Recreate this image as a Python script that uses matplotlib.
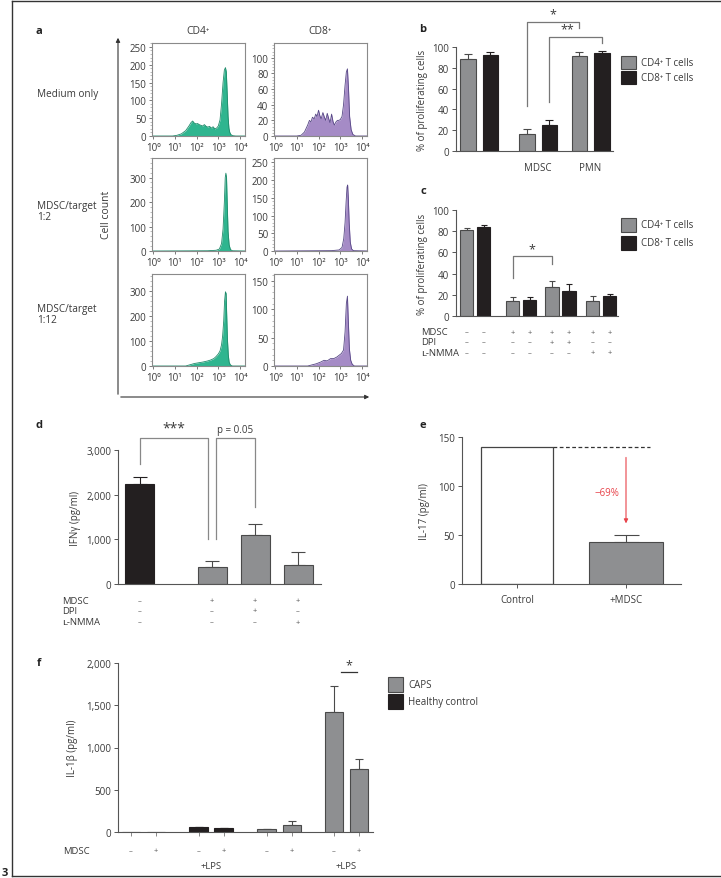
import numpy as np
import matplotlib
matplotlib.use("Agg")
import matplotlib.pyplot as plt
from matplotlib.lines import Line2D
from matplotlib.patches import Rectangle, FancyArrowPatch
from matplotlib.ticker import AutoMinorLocator, LogLocator, NullFormatter

plt.rcParams['font.family'] = ['Open Sans', 'DejaVu Sans']
plt.rcParams['axes.linewidth'] = 0.8

# ---------------- data ----------------
# panel a: flow cytometry histograms (log10 fluorescence, cell count)
cd4_med_lx = [0.0, 0.9, 1.1, 1.3, 1.5, 1.65, 1.75, 1.82, 1.9, 1.98, 2.05, 2.12, 2.2, 2.28, 2.36,
              2.44, 2.52, 2.6, 2.68, 2.76, 2.84, 2.92, 3.0, 3.08, 3.15, 3.22, 3.28, 3.33, 3.37,
              3.41, 3.45, 3.49, 3.53, 3.58, 3.66, 3.8, 4.3]
cd4_med_ct = [0, 0, 2, 6, 15, 28, 38, 42, 36, 34, 35, 32, 30, 28, 32, 27, 25, 27, 22, 26, 20,
              22, 28, 45, 90, 150, 185, 192, 180, 120, 55, 22, 10, 4, 1, 0, 0]
cd8_med_lx = [0, 1.0, 1.2, 1.35, 1.5, 1.58, 1.65, 1.72, 1.8, 1.87, 1.93, 2.0, 2.06, 2.12, 2.2,
              2.27, 2.33, 2.4, 2.47, 2.53, 2.6, 2.67, 2.73, 2.8, 2.87, 2.93, 3.0, 3.08, 3.15,
              3.22, 3.28, 3.33, 3.38, 3.43, 3.5, 3.58, 3.7, 4.3]
cd8_med_ct = [0, 0, 1, 5, 14, 20, 18, 24, 22, 28, 25, 33, 26, 22, 30, 24, 20, 29, 22, 17, 28,
              18, 14, 18, 20, 20, 21, 25, 40, 65, 82, 86, 60, 25, 8, 2, 0, 0]
cd4_r2_lx = [0, 2.5, 2.9, 3.05, 3.15, 3.22, 3.28, 3.32, 3.35, 3.38, 3.41, 3.45, 3.5, 3.56, 3.65, 4.3]
cd4_r2_ct = [0, 1, 3, 8, 30, 90, 200, 300, 318, 300, 200, 80, 25, 6, 1, 0]
cd8_r2_lx = [0, 2.6, 2.95, 3.08, 3.16, 3.22, 3.27, 3.31, 3.34, 3.37, 3.41, 3.46, 3.52, 3.6, 4.3]
cd8_r2_ct = [0, 1, 3, 10, 35, 80, 140, 180, 186, 150, 80, 25, 6, 1, 0]
cd4_r3_lx = [0, 1.5, 1.7, 1.9, 2.1, 2.3, 2.5, 2.65, 2.8, 2.9, 3.0, 3.08, 3.15, 3.2, 3.25, 3.29,
             3.33, 3.36, 3.39, 3.42, 3.46, 3.5, 3.56, 3.65, 4.3]
cd4_r3_ct = [0, 0, 5, 10, 13, 16, 20, 24, 30, 38, 48, 60, 85, 120, 180, 260, 297, 290, 200,
             110, 45, 15, 4, 0, 0]
cd8_r3_lx = [0, 1.5, 1.7, 1.9, 2.1, 2.25, 2.4, 2.55, 2.7, 2.85, 2.95, 3.05, 3.15, 3.22, 3.28,
             3.33, 3.37, 3.42, 3.48, 3.55, 3.65, 4.3]
cd8_r3_ct = [0, 0, 2, 4, 7, 10, 9, 13, 13, 16, 19, 22, 28, 60, 110, 123, 80, 30, 10, 3, 0, 0]
row_labels = ["Medium only", "MDSC/target\n1:2", "MDSC/target\n1:12"]
cd4_yticks = [[0, 50, 100, 150, 200, 250], [0, 100, 200, 300], [0, 100, 200, 300]]
cd8_yticks = [[0, 20, 40, 60, 80, 100], [0, 50, 100, 150, 200, 250], [0, 50, 100, 150]]
cd4_ytop = [261, 380, 368]
cd8_ytop = [119, 262, 162]

# panel b
b_groups = ["", "MDSC", "PMN"]
b_cd4 = [88, 16, 91]
b_cd4_err = [5, 5, 4]
b_cd8 = [92, 25, 94]
b_cd8_err = [3, 5, 2]

# panel c
c_cd4 = [81, 14, 27, 14]
c_cd4_err = [2, 3.5, 6, 4.5]
c_cd8 = [84, 15, 24, 19]
c_cd8_err = [2, 2.5, 6, 1.5]
c_rows = ["MDSC", "DPI", "\u029f-NMMA"]
c_signs = [["–", "–", "+", "+", "+", "+", "+", "+"],
           ["–", "–", "–", "–", "+", "+", "–", "–"],
           ["–", "–", "–", "–", "–", "–", "+", "+"]]

# panel d
d_vals = [2230, 375, 1095, 425]
d_err = [160, 145, 245, 285]
d_signs = [["–", "+", "+", "+"],
           ["–", "–", "+", "–"],
           ["–", "–", "–", "+"]]

# panel e
e_labels = ["Control", "+MDSC"]
e_vals = [140, 43]
e_err = [0, 6.5]

# panel f
f_vals = [0, 0, 55, 45, 35, 85, 1420, 745]
f_err = [0, 0, 5, 5, 5, 45, 310, 120]
f_signs = ["–", "+", "–", "+", "–", "+", "–", "+"]
f_legend = ["CAPS", "Healthy control"]

# ---------------- style ----------------
GRAY = "#8e8f91"
GRAY_E = "#4a4a4a"
BLACK = "#231f20"
TXT = "#3a3a3a"
GREEN = "#2fb58f"
GREEN_E = "#1f8a6a"
PURP = "#a58bc6"
PURP_E = "#564685"
RED = "#e8434a"
TICK = 7

W, H = 721, 879
fig = plt.figure(figsize=(W / 100, H / 100), dpi=100)


def fx(x):
    return x / W


def fy(y):
    return 1 - y / H


def px_axes(x0, y0, x1, y1):
    return fig.add_axes([fx(x0), fy(y1), (x1 - x0) / W, (y1 - y0) / H])


def ftext(x, y, s, **kw):
    kw.setdefault("color", TXT)
    kw.setdefault("fontsize", 7)
    fig.text(fx(x), fy(y), s, **kw)


def fline(xs, ys, **kw):
    kw.setdefault("color", "#444444")
    kw.setdefault("lw", 0.9)
    fig.add_artist(Line2D([fx(v) for v in xs], [fy(v) for v in ys],
                          transform=fig.transFigure, **kw))


def frect(x0, y0, x1, y1, fc, ec):
    fig.add_artist(Rectangle((fx(x0), fy(y1)), (x1 - x0) / W, (y1 - y0) / H,
                             transform=fig.transFigure, fc=fc, ec=ec, lw=0.8))


def style_bar_axes(ax):
    for s in ["top", "right"]:
        ax.spines[s].set_visible(False)
    for s in ["left", "bottom"]:
        ax.spines[s].set_color("#555555")
        ax.spines[s].set_linewidth(0.8)
    ax.tick_params(axis="y", labelsize=TICK, colors="#555555", labelcolor=TXT,
                   length=3, width=0.7, pad=2)
    ax.tick_params(axis="x", length=0, labelsize=7, labelcolor=TXT)
    ax.patch.set_alpha(0)


def draw_bars(ax, xs, vals, errs, colors, width, capw=3):
    for x, v, e, c in zip(xs, vals, errs, colors):
        ec = BLACK if c == BLACK else GRAY_E
        ax.bar(x, v, width, color=c, edgecolor=ec, linewidth=0.8, zorder=2)
        if e > 0:
            ax.errorbar(x, v, yerr=[[0], [e]], fmt="none", ecolor=ec,
                        elinewidth=0.8, capsize=capw, capthick=0.8, zorder=1)


def bracket(ax, x0, x1, ytop, y0low, y1low, color="#777777"):
    ax.plot([x0, x0, x1, x1], [y0low, ytop, ytop, y1low], color=color,
            lw=0.9, clip_on=False, zorder=3)


# ---------------- frame ----------------
fline([12, 12], [2, 877], color="#333333", lw=1.0)
fline([12, 721], [2, 2], color="#333333", lw=1.0)
fline([12, 721], [877, 877], color="#333333", lw=1.0)
ftext(2, 874, "3", fontsize=8, fontweight="bold", color="#222222", ha="left", va="center")

# ---------------- panel a ----------------
ftext(39, 31, "a", fontsize=8, fontweight="bold", color="#222222", ha="center", va="center")
ftext(198, 31, "CD4\u207a", ha="center", va="center", fontsize=7.5)
ftext(320, 31, "CD8\u207a", ha="center", va="center", fontsize=7.5)

rows_y = [(44, 137), (159, 252), (275, 367)]
hists = [[(cd4_med_lx, cd4_med_ct), (cd8_med_lx, cd8_med_ct)],
         [(cd4_r2_lx, cd4_r2_ct), (cd8_r2_lx, cd8_r2_ct)],
         [(cd4_r3_lx, cd4_r3_ct), (cd8_r3_lx, cd8_r3_ct)]]
cols_x = [(152, 245), (274, 367)]
label_y = [95, 212, 315]
for r in range(3):
    ftext(37, label_y[r], row_labels[r], ha="left", va="center", fontsize=7.2,
          linespacing=1.1)
    for c in range(2):
        x0, x1 = cols_x[c]
        y0, y1 = rows_y[r]
        ax = px_axes(x0, y0, x1, y1)
        lx, ct = hists[r][c]
        xv = 10 ** np.array(lx)
        fc, ec = (GREEN, GREEN_E) if c == 0 else (PURP, PURP_E)
        ax.fill_between(xv, ct, 0, color=fc, lw=0)
        ax.plot(xv, ct, color=ec, lw=0.6)
        ax.set_xscale("log")
        ax.set_xlim(10 ** -0.05, 10 ** 4.23)
        ax.set_ylim(0, (cd4_ytop if c == 0 else cd8_ytop)[r])
        ax.set_xticks([1, 10, 100, 1000, 10000])
        ax.set_xticklabels(["10\u2070", "10\u00b9", "10\u00b2", "10\u00b3", "10\u2074"])
        ax.xaxis.set_minor_locator(LogLocator(base=10, subs=np.arange(2, 10)))
        ax.xaxis.set_minor_formatter(NullFormatter())
        yt = (cd4_yticks if c == 0 else cd8_yticks)[r]
        ax.set_yticks(yt)
        ax.yaxis.set_minor_locator(AutoMinorLocator(5))
        for s in ax.spines.values():
            s.set_color("#8a8a8a")
            s.set_linewidth(0.8)
        ax.tick_params(which="major", labelsize=TICK, labelcolor=TXT, colors="#666666",
                       length=2.5, width=0.6, pad=1.5)
        ax.tick_params(which="minor", colors="#888888", length=1.3, width=0.4)

# arrows
fig.add_artist(FancyArrowPatch((fx(118), fy(398)), (fx(118), fy(36)),
                               transform=fig.transFigure, arrowstyle="-|>",
                               mutation_scale=6, lw=0.8, color="#333333"))
fig.add_artist(FancyArrowPatch((fx(118), fy(398)), (fx(372), fy(398)),
                               transform=fig.transFigure, arrowstyle="-|>",
                               mutation_scale=6, lw=0.8, color="#333333"))
ftext(107, 215, "Cell count", rotation=90, ha="center", va="center", fontsize=7.5)

# ---------------- panel b ----------------
ftext(423, 30, "b", fontsize=8, fontweight="bold", color="#222222", ha="center", va="center")
axb = px_axes(456, 48, 613, 152)
style_bar_axes(axb)
b_centers = np.array([23, 82, 134.5])
off = 11.25
bw = 15.5
draw_bars(axb, b_centers - off, b_cd4, b_cd4_err, [GRAY] * 3, bw)
draw_bars(axb, b_centers + off, b_cd8, b_cd8_err, [BLACK] * 3, bw)
axb.set_xlim(0, 157)
axb.set_ylim(0, 100)
axb.set_yticks([0, 20, 40, 60, 80, 100])
axb.set_xticks(b_centers)
axb.set_xticklabels(b_groups)
axb.tick_params(axis="x", pad=8)
axb.set_ylabel("% of proliferating cells", fontsize=7, color=TXT, labelpad=3)
bracket(axb, b_centers[1] - off, b_centers[2] - off, 124, 43, 118)
axb.text((b_centers[1] + b_centers[2]) / 2 - off, 126, "*", ha="center", va="bottom",
         fontsize=9, color=TXT, clip_on=False)
bracket(axb, b_centers[1] + off, b_centers[2] + off, 109.6, 47, 104)
axb.text((b_centers[1] + b_centers[2]) / 2 + off - 8, 111, "**", ha="center", va="bottom",
         fontsize=9, color=TXT, clip_on=False)
frect(621, 57, 636, 70, GRAY, GRAY_E)
frect(621, 72, 636, 85, BLACK, BLACK)
ftext(641, 63.5, "CD4\u207a T cells", ha="left", va="center")
ftext(641, 78.5, "CD8\u207a T cells", ha="left", va="center")

# ---------------- panel c ----------------
ftext(423, 192, "c", fontsize=8, fontweight="bold", color="#222222", ha="center", va="center")
axc = px_axes(456, 211, 618, 317)
style_bar_axes(axc)
c_centers = np.array([19, 65, 104.5, 145])
coff = 8.5
cw = 13.5
draw_bars(axc, c_centers - coff, c_cd4, c_cd4_err, [GRAY] * 4, cw, capw=2.5)
draw_bars(axc, c_centers + coff, c_cd8, c_cd8_err, [BLACK] * 4, cw, capw=2.5)
axc.set_xlim(0, 162)
axc.set_ylim(0, 100)
axc.set_yticks([0, 20, 40, 60, 80, 100])
axc.set_xticks([])
axc.set_ylabel("% of proliferating cells", fontsize=7, color=TXT, labelpad=3)
bracket(axc, c_centers[1] - coff, c_centers[2] - coff, 56.6, 36, 49)
axc.text((c_centers[1] + c_centers[2]) / 2 - coff, 57.5, "*", ha="center", va="bottom",
         fontsize=9, color=TXT, clip_on=False)
c_bar_x = np.ravel(np.column_stack([c_centers - coff, c_centers + coff]))
c_row_y = [333, 343, 354]
for ri in range(3):
    ftext(421, c_row_y[ri], c_rows[ri], ha="left", va="center", fontsize=6.8)
    for xi, s in zip(c_bar_x, c_signs[ri]):
        axc.text(xi, (317 - c_row_y[ri]) / 106, s, transform=axc.get_xaxis_transform(),
                 ha="center", va="center", fontsize=5.5, color="#555555")
frect(621, 219, 636, 233, GRAY, GRAY_E)
frect(621, 237, 636, 251, BLACK, BLACK)
ftext(641, 226, "CD4\u207a T cells", ha="left", va="center")
ftext(641, 244, "CD8\u207a T cells", ha="left", va="center")

# ---------------- panel d ----------------
ftext(39, 426, "d", fontsize=8, fontweight="bold", color="#222222", ha="center", va="center")
axd = px_axes(118, 451, 321, 585)
style_bar_axes(axd)
d_x = np.array([21.5, 94, 137, 180])
draw_bars(axd, d_x, d_vals, d_err, [BLACK, GRAY, GRAY, GRAY], 29, capw=5)
axd.set_xlim(0, 203)
axd.set_ylim(0, 3000)
axd.set_yticks([0, 1000, 2000, 3000])
axd.set_yticklabels(["0", "1,000", "2,000", "3,000"])
axd.set_xticks([])
axd.set_ylabel("IFN\u03b3 (pg/ml)", fontsize=7, color=TXT, labelpad=4)
bracket(axd, d_x[0], d_x[1] - 4, 3270, 2690, 1000, color="#888888")
axd.text((d_x[0] + d_x[1] - 4) / 2, 3320, "***", ha="center", va="bottom", fontsize=10,
         color=TXT, clip_on=False)
bracket(axd, d_x[1] + 4, d_x[2], 3270, 1000, 1720, color="#888888")
axd.text((d_x[1] + 4 + d_x[2]) / 2, 3330, "p = 0.05", ha="center", va="bottom",
         fontsize=7, color=TXT, clip_on=False)
d_row_y = [602, 612, 623]
for ri in range(3):
    ftext(62, d_row_y[ri], c_rows[ri], ha="left", va="center", fontsize=6.8)
    for xi, s in zip(d_x, d_signs[ri]):
        axd.text(xi, (585 - d_row_y[ri]) / 134, s, transform=axd.get_xaxis_transform(),
                 ha="center", va="center", fontsize=5.5, color="#555555")

# ---------------- panel e ----------------
ftext(423, 426, "e", fontsize=8, fontweight="bold", color="#222222", ha="center", va="center")
axe = px_axes(462, 438, 681, 585)
style_bar_axes(axe)
e_x = np.array([55, 164])
axe.bar(e_x[0], e_vals[0], 72, color="white", edgecolor="#444444", linewidth=0.9, zorder=2)
draw_bars(axe, e_x[1:], e_vals[1:], e_err[1:], [GRAY], 74, capw=9)
axe.set_xlim(0, 219)
axe.set_ylim(0, 150)
axe.set_yticks([0, 50, 100, 150])
axe.set_xticks(e_x)
axe.set_xticklabels(e_labels)
axe.tick_params(axis="x", length=3, width=0.7, colors="#555555", labelcolor=TXT, pad=4,
                labelsize=7)
axe.set_ylabel("IL-17 (pg/ml)", fontsize=7, color=TXT, labelpad=6)
axe.plot([e_x[0] + 36, 188], [e_vals[0], e_vals[0]], ls=(0, (3, 2)), color="#333333",
         lw=0.9, zorder=3)
axe.annotate("", xy=(e_x[1], 59), xytext=(e_x[1], 132),
             arrowprops=dict(arrowstyle="-|>", color=RED, lw=0.8, mutation_scale=6))
axe.text(e_x[1] - 19, 93, "\u221269%", color=RED, fontsize=7, ha="center", va="center")

# ---------------- panel f ----------------
ftext(39, 664, "f", fontsize=8, fontweight="bold", color="#222222", ha="center", va="center")
axf = px_axes(118, 664, 373, 833)
style_bar_axes(axf)
f_x = np.array([13, 38, 80.5, 105.5, 148.5, 174, 216, 241])
f_cols = [BLACK, BLACK, BLACK, BLACK, GRAY, GRAY, GRAY, GRAY]
draw_bars(axf, f_x, f_vals, f_err, f_cols, 18.5, capw=3)
axf.set_xlim(0, 255)
axf.set_ylim(0, 2000)
axf.set_yticks([0, 500, 1000, 1500, 2000])
axf.set_yticklabels(["0", "500", "1,000", "1,500", "2,000"])
axf.set_xticks(f_x)
axf.set_xticklabels([])
axf.tick_params(axis="x", length=3, width=0.7, colors="#888888")
axf.set_ylabel("IL-1\u03b2 (pg/ml)", fontsize=7, color=TXT, labelpad=6)
axf.plot([f_x[6] + 7, f_x[7] - 2], [1893, 1893], color="#333333", lw=0.9, clip_on=False)
axf.text((f_x[6] + f_x[7]) / 2 + 2, 1905, "*", ha="center", va="bottom", fontsize=9,
         color=TXT, clip_on=False)
ftext(63, 852, "MDSC", ha="left", va="center", fontsize=6.8)
for xi, s in zip(f_x, f_signs):
    axf.text(xi, (833 - 852) / 169, s, transform=axf.get_xaxis_transform(),
             ha="center", va="center", fontsize=5.5, color="#555555")
for pair in [(2, 3), (6, 7)]:
    axf.text((f_x[pair[0]] + f_x[pair[1]]) / 2, (833 - 867) / 169, "+LPS",
             transform=axf.get_xaxis_transform(), ha="center", va="center",
             fontsize=6.8, color=TXT)
frect(388, 678, 403, 693, GRAY, GRAY_E)
frect(388, 695, 403, 710, BLACK, BLACK)
ftext(408, 685.5, f_legend[0], ha="left", va="center")
ftext(408, 702.5, f_legend[1], ha="left", va="center")

fig.savefig("out.png", dpi=100)
